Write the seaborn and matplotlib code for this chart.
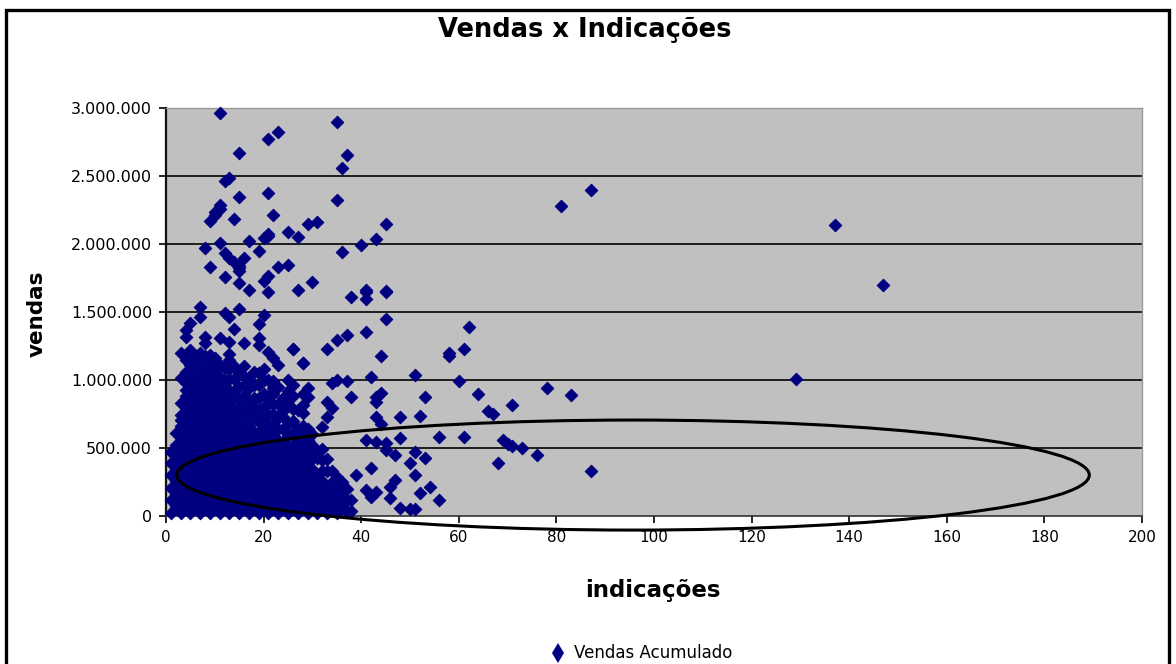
import matplotlib
matplotlib.use("Agg")
import matplotlib.pyplot as plt
from matplotlib.patches import Ellipse, Rectangle
from matplotlib.lines import Line2D
import pandas as pd
import seaborn as sns

sns.set_theme(style="white")
plt.rcParams['font.family'] = ['DejaVu Sans']

title = "Vendas x Indicações"
x_label = "indicações"
y_label = "vendas"
series_name = "Vendas Acumulado"
x_ticks = [0, 20, 40, 60, 80, 100, 120, 140, 160, 180, 200]
y_ticks = [0, 500, 1000, 1500, 2000, 2500, 3000]
y_tick_labels = ["0", "500.000", "1.000.000", "1.500.000", "2.000.000", "2.500.000", "3.000.000"]

# sparse points read one by one: indicações / vendas (thousands)
sparse_x = [11,35,23,21,37,15,36,13,12,15,21,35,9,10,10,11,11,14,22,29,31,45,25,27,17,11,20,21,21,
            8,19,16,12,13,14,15,15,36,40,43,9,12,15,15,23,25,20,21,30,17,21,27,41,45,38,41,41,45,
            45,41,37,35,33,26,28,44,58,58,42,51,37,35,34,38,53,43,44,43,29,29,28,33,34,33,32,
            43,48,52,44,41,43,45,45,48,47,56,51,53,50,51,47,46,46,48,50,51,54,52,56,42,39,41,43,42,
            62,61,60,78,83,64,71,66,67,61,69,70,71,73,76,68,87,81,87,137,147,129,
            7,12,13,15,20,19,14,7,5,4,4,8,11,13,8,19,16,19,26,28,5,3,9,13,21,22,23,19,6,3,25,26,22]
sparse_y = [2965,2900,2823,2775,2654,2670,2557,2485,2463,2346,2377,2324,2171,2210,2235,2260,2290,2184,2213,2147,2161,2147,2090,2051,2024,2007,2044,2060,2071,
            1970,1950,1900,1934,1900,1870,1840,1800,1941,1995,2037,1833,1757,1820,1713,1833,1846,1730,1765,1720,1662,1650,1662,1662,1657,1613,1650,1595,1650,
            1448,1355,1330,1294,1228,1228,1125,1176,1180,1200,1022,1037,995,1000,978,875,877,877,904,840,941,877,816,840,794,730,656,
            728,728,735,680,559,546,537,485,574,448,583,473,426,392,301,265,215,132,59,51,51,213,171,118,353,301,191,179,142,
            1392,1228,995,941,890,897,816,774,750,583,559,530,515,502,448,390,333,2280,2400,2140,1700,1010,
            1540,1490,1465,1522,1478,1412,1375,1465,1419,1368,1318,1318,1309,1282,1272,1309,1272,1260,1228,1125,1220,1198,1184,1191,1208,1160,1110,1051,1088,1015,1000,963,941]

# dense cluster, estimated column by column
cluster_x = [1,1,1,1,1,1,
             2,2,2,2,2,2,2,
             3,3,3,3,3,3,3,3,3,
             4,4,4,4,4,4,4,4,4,4,4,4,
             5,5,5,5,5,5,5,5,5,5,5,5,5,
             6,6,6,6,6,6,6,6,6,6,6,6,
             7,7,7,7,7,7,7,7,7,7,7,7,
             8,8,8,8,8,8,8,8,8,8,8,8,
             9,9,9,9,9,9,9,9,9,9,9,9,9,
             10,10,10,10,10,10,10,10,10,10,10,
             11,11,11,11,11,11,11,11,11,11,11,
             12,12,12,12,12,12,12,12,12,12,12,
             13,13,13,13,13,13,13,13,13,13,13,
             14,14,14,14,14,14,14,14,14,14,14,
             15,15,15,15,15,15,15,15,15,15,15,
             16,16,16,16,16,16,16,16,16,16,16,
             17,17,17,17,17,17,17,17,17,17,
             18,18,18,18,18,18,18,18,18,18,
             19,19,19,19,19,19,19,19,19,
             20,20,20,20,20,20,20,20,20,
             21,21,21,21,21,21,21,21,21,
             22,22,22,22,22,22,22,22,
             23,23,23,23,23,23,23,
             24,24,24,24,24,24,24,24,
             25,25,25,25,25,25,25,
             26,26,26,26,26,26,26,
             27,27,27,27,27,27,
             28,28,28,28,28,28,
             29,29,29,29,29,
             30,30,30,30,30,
             31,31,31,31,
             32,32,32,32,
             33,33,33,
             34,34,34,
             35,35,
             36,36,
             37,38]
cluster_y = [25,115,205,300,390,470,
             70,165,255,345,435,525,610,
             25,120,210,300,390,480,570,660,745,
             75,165,255,345,435,525,615,705,795,885,975,1060,
             25,120,210,300,390,480,570,660,750,840,930,1020,1110,
             75,165,255,345,435,525,615,705,795,885,975,1090,
             25,120,210,300,390,480,570,660,750,840,930,1030,
             75,165,255,345,435,525,615,705,795,885,975,1090,
             25,120,210,300,390,480,570,660,750,840,930,1020,1130,
             75,165,255,345,435,525,615,705,795,885,975,
             25,120,210,300,390,480,570,660,750,840,930,
             75,165,255,345,435,525,615,705,795,885,1000,
             25,120,210,300,390,480,570,660,750,840,1080,
             75,165,255,345,435,525,615,705,795,920,1010,
             25,120,210,300,390,480,570,660,750,860,1050,
             75,165,255,345,435,525,615,700,800,960,1100,
             25,120,210,300,390,480,570,660,760,1010,
             75,165,255,345,435,525,615,720,870,1060,
             25,120,210,300,390,480,570,690,960,
             75,165,255,345,435,525,640,800,1000,
             25,120,210,300,390,480,590,740,880,
             75,165,255,345,435,530,680,820,
             25,120,210,300,390,480,640,
             75,165,255,345,435,540,730,840,
             25,120,210,300,390,480,590,
             75,165,255,345,435,520,790,
             25,120,210,300,390,470,
             75,165,255,345,435,660,
             25,120,210,300,390,
             75,165,255,345,430,
             25,120,210,300,
             75,165,255,330,
             25,120,210,
             75,165,250,
             25,120,
             75,170,
             30,35]

# extra points filling the upper and right parts of the cluster
fill_x = [10,11,11,12,12,13,13,13,14,15,16,16,17,17,18,18,19,19,19,20,20,20,21,21,21,
          22,22,22,22,23,23,23,23,24,24,24,25,25,25,26,26,26,27,27,27,28,28,28,28,29,29,29,
          30,30,31,31,32,32,33,33,34,35,35,36,37,37,38,
          3,4,5,6,7,7,8,9,10,
          4,6,8,10,12,14,16,18,5,7,9,11,13,15,17,19]
fill_y = [1080,1020,1110,975,1090,930,1010,1150,1100,950,880,1030,850,940,800,960,780,870,1050,720,900,1080,670,820,1000,
          610,750,900,990,560,720,820,950,640,770,870,680,820,920,610,700,880,550,640,780,520,600,760,900,480,560,640,
          520,600,480,430,410,490,330,420,330,210,290,250,120,200,120,
          830,1150,1200,1170,1120,1200,1180,1060,1160,
          930,840,750,660,570,480,390,300,660,750,840,660,570,480,390,300]

# more estimated points inside the solid core of the cluster
core_x = [3,3,3,3,3,3,3,3,
          5,5,5,5,5,5,5,5,5,5,5,5,
          7,7,7,7,7,7,7,7,7,7,7,7,
          9,9,9,9,9,9,9,9,9,9,9,9,
          11,11,11,11,11,11,11,11,11,11,
          13,13,13,13,13,13,13,13,13,13,
          15,15,15,15,15,15,15,15,15,
          17,17,17,17,17,17,17,
          19,19,19,19,19,19,19,
          21,21,21,21,21,21,
          23,23,23,23,23,23,
          25,25,25,25,25,
          27,27,27,27,27,
          29,29,29,29,
          31,31,31,
          33,33,
          35]
core_y = [70,165,255,345,435,525,615,705,
          70,165,255,345,435,525,615,705,795,885,975,1065,
          70,165,255,345,435,525,615,705,795,885,975,1075,
          70,165,255,345,435,525,615,705,795,885,975,1075,
          70,165,255,345,435,525,615,705,795,885,
          70,165,255,345,435,525,615,705,795,885,
          70,165,255,345,435,525,615,705,795,
          70,165,255,345,435,525,615,
          70,165,255,345,435,525,615,
          70,165,255,345,435,525,
          70,165,255,345,435,525,
          70,165,255,345,435,
          70,165,255,345,435,
          70,165,255,345,
          70,165,255,
          70,165,
          75]

df = pd.DataFrame({"indicacoes": sparse_x + cluster_x + fill_x + core_x,
                   "vendas": sparse_y + cluster_y + fill_y + core_y})

W, H = 1176, 664
fig = plt.figure(figsize=(W / 100, H / 100), dpi=100, facecolor="white")
ax = fig.add_axes([166 / W, 1 - 516 / H, (1142 - 166) / W, (516 - 108) / H])
ax.set_facecolor("#C0C0C0")

sns.scatterplot(data=df, x="indicacoes", y="vendas", ax=ax, marker="D", s=40,
                color="#000080", edgecolor="#000080", linewidth=0.8, clip_on=False, zorder=3,
                legend=False)

ax.set_xlim(0, 200)
ax.set_ylim(0, 3000)
ax.set_xlabel("")
ax.set_ylabel("")
ax.set_xticks(x_ticks)
ax.set_xticklabels([str(v) for v in x_ticks], fontsize=11, color="black")
ax.set_yticks(y_ticks)
ax.set_yticklabels(y_tick_labels, fontsize=11.5, color="black")
ax.tick_params(axis="both", direction="out", length=5, width=1.2, color="black", pad=5,
               bottom=True, left=True)
ax.grid(False)
for v in y_ticks[1:-1]:
    ax.axhline(v, color="#111111", lw=1.3, zorder=1)
ax.spines["left"].set(color="#111111", lw=1.6)
ax.spines["bottom"].set(color="#333333", lw=1.2)
ax.spines["top"].set(color="#999999", lw=1.0)
ax.spines["right"].set(color="#999999", lw=1.0)

ax.add_patch(Ellipse((95.7, 301), 187, 809, angle=0, fill=False, edgecolor="black", lw=2.2,
                     clip_on=False, zorder=4))

fig.text(585 / W, 1 - 30 / H, title, ha="center", va="center", fontsize=18.5, fontweight="bold",
         color="black")
fig.text(653 / W, 1 - 591 / H, x_label, ha="center", va="center", fontsize=16.5, fontweight="bold",
         color="black")
fig.text(37 / W, 1 - 314 / H, y_label, ha="center", va="center", rotation=90, fontsize=15.5,
         fontweight="bold", color="black")

fig.add_artist(Line2D([558 / W], [1 - 653 / H], marker="d", markersize=10, markeredgewidth=0,
                      color="#000080", linestyle="none", transform=fig.transFigure))
fig.text(574 / W, 1 - 653 / H, series_name, ha="left", va="center", fontsize=12, color="black")

fig.add_artist(Rectangle((6 / W, -0.05), (1169 - 6) / W, 1.05 - 10 / H, fill=False, edgecolor="black",
                         lw=2.4, transform=fig.transFigure))

fig.savefig("out.png", dpi=100, facecolor="white")
